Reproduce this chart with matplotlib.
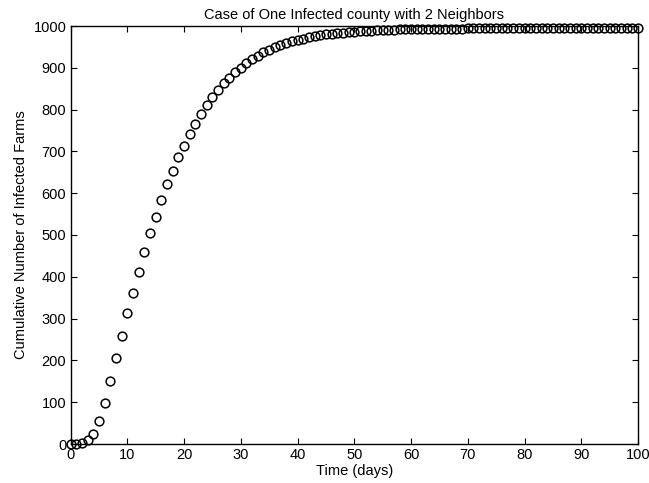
import matplotlib
matplotlib.use("Agg")
import matplotlib.pyplot as plt

days = list(range(0, 101))
infected = [
    0, 1, 3, 9, 24, 55, 99, 150, 205, 259,
    314, 362, 411, 459, 504, 544, 584, 621, 654, 687,
    714, 741, 766, 789, 810, 829, 847, 863, 876, 889,
    900, 911, 920, 929, 937, 943, 949, 954, 959, 963,
    967, 970, 973, 976, 978, 980, 982, 983, 984, 985,
    986, 987, 988, 989, 990, 990, 991, 991, 992, 992,
    993, 993, 993, 993, 994, 994, 994, 994, 994, 994,
    995, 995, 995, 995, 995, 995, 995, 995, 995, 995,
    995, 995, 995, 995, 995, 995, 995, 995, 995, 995,
    995, 995, 995, 995, 995, 995, 995, 995, 995, 995,
    995,
]
xticks = list(range(0, 101, 10))
yticks = list(range(0, 1001, 100))

plt.rcParams['font.family'] = ['Liberation Sans', 'DejaVu Sans']
fig = plt.figure(figsize=(6.49, 4.83), dpi=100)
ax = fig.add_axes([70.5/649, 1-444/483, (638-70.5)/649, (444-26)/483])
ax.plot(days, infected, linestyle='none', marker='o', markersize=6.3,
        markerfacecolor='none', markeredgecolor='black', markeredgewidth=1.1,
        clip_on=False)
ax.set_xlim(0, 100)
ax.set_ylim(0, 1000)
ax.set_xticks(xticks)
ax.set_yticks(yticks)
ax.tick_params(direction='in', top=True, right=True, labelsize=10.5, length=4, pad=3)
for s in ax.spines.values():
    s.set_linewidth(1.0)
ax.set_title('Case of One Infected county with 2 Neighbors', fontsize=10.5, pad=5)
ax.set_xlabel('Time (days)', fontsize=10.5, labelpad=1)
ax.set_ylabel('Cumulative Number of Infected Farms', fontsize=10.5, labelpad=4)
fig.savefig('out.png', dpi=100)
